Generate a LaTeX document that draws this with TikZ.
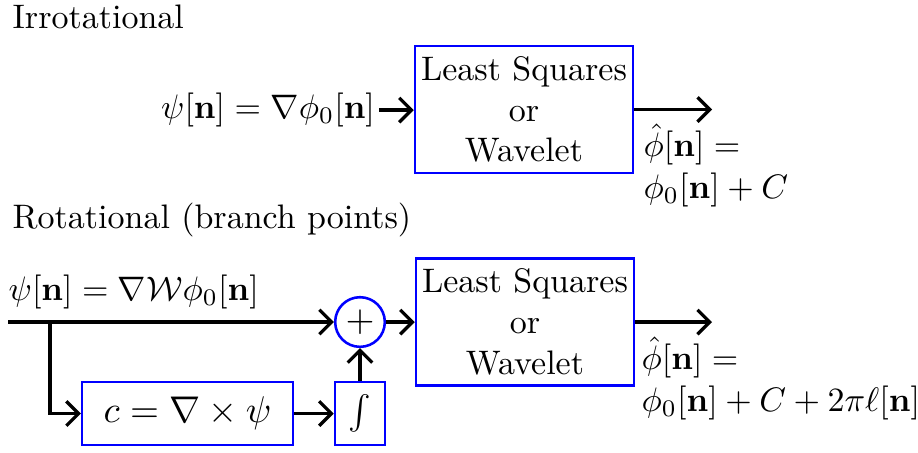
\documentclass[tikz,border=0pt]{standalone}
\usetikzlibrary{arrows.meta}
\begin{document}
\begin{tikzpicture}[x=0.2941pt,y=-0.2941pt,
  conn/.style={line width=0.95pt, -{Straight Barb[length=3.6pt,width=7.2pt]}},
  bluebox/.style={draw=blue, line width=0.75pt, inner sep=1pt},
  lsbox/.style={bluebox, align=center, minimum width=64.1pt, minimum height=37.3pt},
  smallbox/.style={bluebox, minimum height=18.5pt},
  title/.style={anchor=base west, inner sep=0pt},
  outlbl/.style={anchor=north west, align=left, inner sep=0pt}]
\useasboundingbox (0,0) rectangle (918,452);

% Irrotational
\node[title] (t1) at (12,28) {Irrotational};
\node[lsbox] (ls1) at (524,109.5) {Least Squares\\or\\Wavelet};
\node[anchor=east, inner sep=1pt] (in1) at (379,110) {$\psi[\mathbf{n}]=\nabla\phi_0[\mathbf{n}]$};
\coordinate (o1) at (712,109.5);
\draw[conn] (in1.east) -- (in1.east -| ls1.west);
\draw[conn] (ls1.east) -- (o1);
\node[outlbl] (r1) at (643,123) {$\hat{\phi}[\mathbf{n}]=$\\[0.5pt]$\phi_0[\mathbf{n}]+C$};

% Rotational
\node[title] (t2) at (12,228) {Rotational (branch points)};
\node[title] (in2) at (8,300) {$\psi[\mathbf{n}]=\nabla\mathcal{W}\phi_0[\mathbf{n}]$};
\coordinate (s) at (8,322);
\coordinate (br) at (50,322);
\node[circle, draw=blue, line width=0.75pt, minimum size=14.6pt, inner sep=0pt, font=\fontsize{11}{13}\selectfont] (sum) at (360,322) {$+$};
\node[lsbox] (ls2) at (525,322) {Least Squares\\or\\Wavelet};
\node[smallbox, minimum width=62pt, font=\fontsize{11}{13}\selectfont] (curl) at (187.5,413.5) {$c=\nabla\times\psi$};
\node[smallbox, minimum width=14.7pt, font=\fontsize{11}{13}\selectfont] (int) at (360,413.5) {$\int$};
\coordinate (o2) at (712,322);
\draw[conn] (s) -- (sum);
\draw[conn] (br) |- (curl);
\draw[conn] (curl) -- (int);
\draw[conn] (int) -- (sum);
\draw[conn] (sum) -- (ls2);
\draw[conn] (ls2) -- (o2);
\node[outlbl] (r2) at (641,336) {$\hat{\phi}[\mathbf{n}]=$\\[0.5pt]$\phi_0[\mathbf{n}]+C+2\pi\ell[\mathbf{n}]$};
\end{tikzpicture}
\end{document}
